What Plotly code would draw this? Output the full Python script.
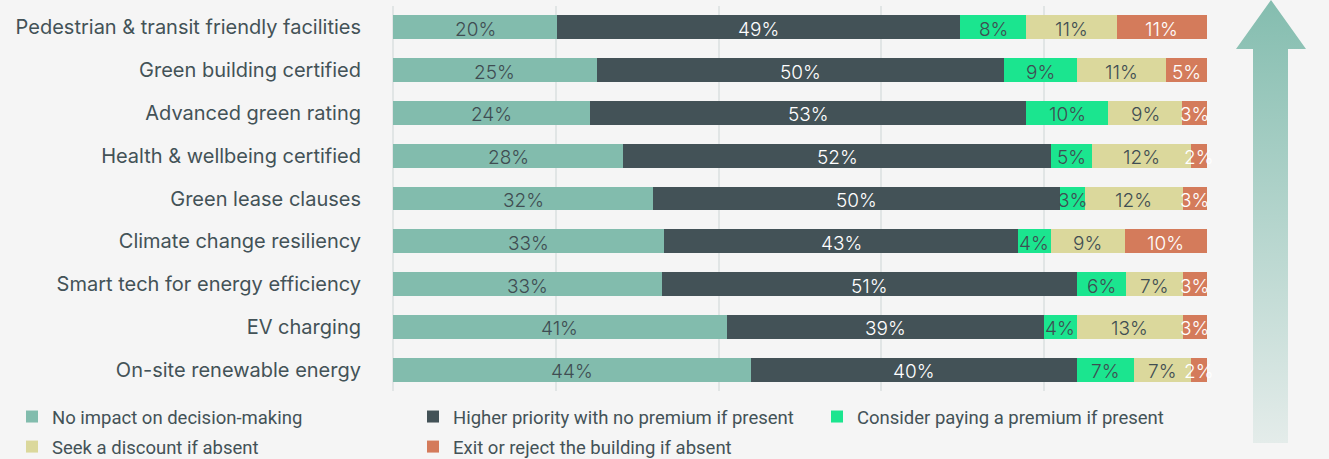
import plotly.graph_objects as go

# Survey results: share of respondents per reaction, by building feature
categories = [
    "Pedestrian & transit friendly facilities",
    "Green building certified",
    "Advanced green rating",
    "Health & wellbeing certified",
    "Green lease clauses",
    "Climate change resiliency",
    "Smart tech for energy efficiency",
    "EV charging",
    "On-site renewable energy",
]
no_impact = [20, 25, 24, 28, 32, 33, 33, 41, 44]
higher_priority = [49, 50, 53, 52, 50, 43, 51, 39, 40]
consider_premium = [8, 9, 10, 5, 3, 4, 6, 4, 7]
seek_discount = [11, 11, 9, 12, 12, 9, 7, 13, 7]
exit_reject = [11, 5, 3, 2, 3, 10, 3, 3, 2]

series_names = [
    "No impact on decision-making",
    "Higher priority with no premium if present",
    "Consider paying a premium if present",
    "Seek a discount if absent",
    "Exit or reject the building if absent",
]
series_values = [no_impact, higher_priority, consider_premium, seek_discount, exit_reject]
series_colors = ["#82bcad", "#435257", "#1be58f", "#dbd89c", "#d47b5b"]
label_colors = ["#3f4d52", "#ffffff", "#3f4d52", "#3f4d52", "#ffffff"]
legend_ids = ["legend", "legend2", "legend3", "legend", "legend2"]

W, H = 1329, 459
BG = "#f5f5f5"
TEXT = "#435257"
GRID = "#e1e5e5"
FONT = "Inter"


def px_x(p):
    return p / W


def px_y(p):
    return 1 - p / H


fig = go.Figure()

# Stacked bars (normalised so every row fills 100%)
for name, vals, color, leg in zip(series_names, series_values, series_colors, legend_ids):
    fig.add_trace(go.Bar(
        y=categories, x=vals, name=name, orientation="h",
        marker=dict(color=color, line=dict(width=0)),
        legend=leg, legendgroup=name,
        hoverinfo="skip",
    ))

# Value labels centred on each segment
totals = [sum(col) for col in zip(*series_values)]
left = [0.0] * len(categories)
for vals, tcolor in zip(series_values, label_colors):
    shares = [v / t * 100 for v, t in zip(vals, totals)]
    for cat, v, l, s in zip(categories, vals, left, shares):
        fig.add_annotation(
            x=l + s / 2, y=cat, xref="x", yref="y",
            text=f"{v}%", showarrow=False, yshift=-2,
            xanchor="center", yanchor="middle",
            font=dict(family=FONT, size=19, color=tcolor, weight=300),
        )
    left = [l + s for l, s in zip(left, shares)]

# Upward arrow with a vertical gradient, on its own hidden axes
arrow_x = [17, 52, 52, 70, 35, 0, 17, 17]
arrow_y = [0, 0, 394, 394, 443, 394, 394, 0]
fig.add_trace(go.Scatter(
    x=arrow_x, y=arrow_y, xaxis="x2", yaxis="y2",
    mode="lines", fill="toself",
    line=dict(width=0, color="rgba(0,0,0,0)"),
    fillgradient=dict(type="vertical", start=0, stop=443,
                      colorscale=[[0, "#e4ecea"], [1, "#84bdaf"]]),
    showlegend=False, hoverinfo="skip",
))

legend_common = dict(
    orientation="v", bgcolor="rgba(0,0,0,0)", borderwidth=0,
    font=dict(family="Roboto", size=18.5, color=TEXT),
    xanchor="left", yanchor="top", y=px_y(398), tracegroupgap=3,
    itemclick=False, itemdoubleclick=False,
)

fig.update_layout(
    width=W, height=H, autosize=False,
    margin=dict(l=0, r=0, t=0, b=0, autoexpand=False),
    paper_bgcolor=BG, plot_bgcolor=BG,
    barmode="stack", barnorm="percent", bargap=0.44,
    font=dict(family=FONT, color=TEXT),
    xaxis=dict(
        domain=[px_x(393), px_x(1207)], range=[0, 100], dtick=20,
        showticklabels=False, showgrid=True, gridcolor=GRID, gridwidth=2,
        zeroline=True, zerolinecolor=GRID, zerolinewidth=2,
        fixedrange=True,
    ),
    yaxis=dict(
        domain=[px_y(391), px_y(6)], type="category",
        range=[8.5, -0.5], showgrid=False, zeroline=False,
        ticks="", ticklabelstandoff=31,
        tickfont=dict(family=FONT, size=20, color=TEXT),
        fixedrange=True,
    ),
    xaxis2=dict(domain=[px_x(1236), px_x(1306)], range=[0, 70],
                visible=False, anchor="y2", fixedrange=True),
    yaxis2=dict(domain=[px_y(443), 1], range=[0, 443],
                visible=False, anchor="x2", fixedrange=True),
    legend=dict(legend_common, x=px_x(12)),
    legend2=dict(legend_common, x=px_x(413)),
    legend3=dict(legend_common, x=px_x(817)),
    showlegend=True,
)

fig.write_html("out.html")
